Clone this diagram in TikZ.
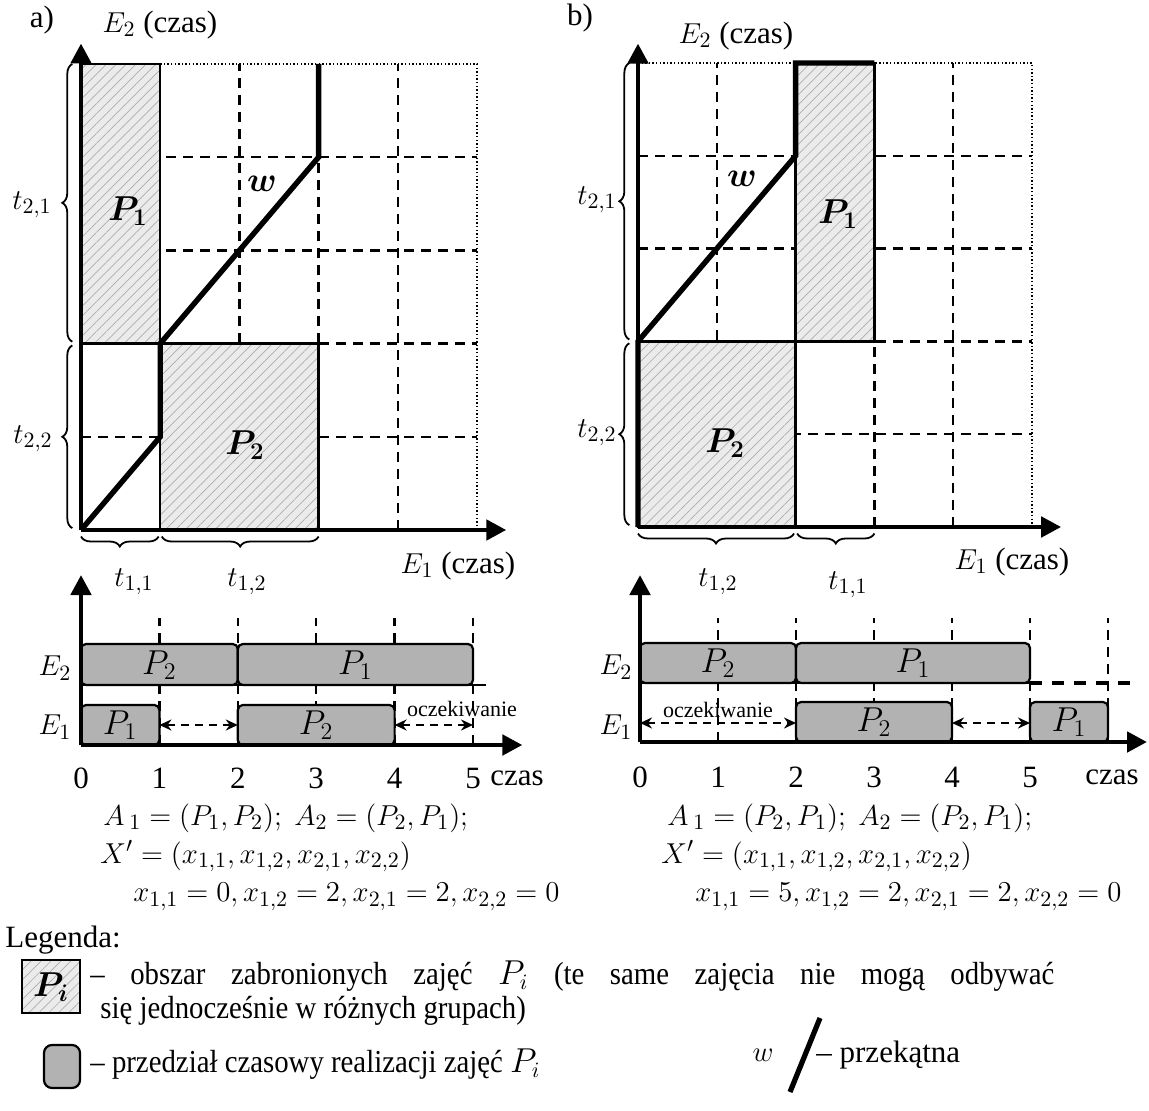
\documentclass[tikz,border=0pt]{standalone}
\usepackage{amsmath,bm}
\usepackage{fontspec}
\setmainfont{Liberation Serif}
\newfontfamily\legfont{Liberation Serif}[FakeStretch=0.9]
\usetikzlibrary{arrows.meta,patterns,patterns.meta,decorations.pathreplacing}
\begin{document}
\begin{tikzpicture}[x=0.5pt,y=-0.5pt,
  lbl/.style={font=\fontsize{15.5}{18}\selectfont, inner sep=0pt},
  big/.style={font=\fontsize{18}{20}\selectfont, inner sep=0pt},
  barl/.style={font=\fontsize{16.5}{18}\selectfont, inner sep=0pt},
  leg/.style={font=\fontsize{16}{18}\selectfont\legfont, inner sep=0pt},
  small/.style={font=\fontsize{11}{13}\selectfont, inner sep=0pt},
  gridd/.style={line width=1.2pt, dash pattern=on 5pt off 3.5pt},
  dotl/.style={line width=0.8pt, dash pattern=on 0.7pt off 1.1pt},
  forbid/.style={fill=black!8, postaction={pattern={Lines[angle=45,distance=3.5pt,line width=0.35pt]}, pattern color=black!32}},
  edge/.style={line width=1.2pt},
  wpath/.style={line width=2.7pt, line join=miter},
  axisarrow/.style={line width=2.4pt, -{Triangle[length=10pt,width=10pt]}},
  bracestyle/.style={line width=0.9pt, decorate, decoration={brace, amplitude=5pt}},
  bar/.style={draw, line width=1.1pt, fill=black!30, rounded corners=2.5pt},
  waitarrow/.style={line width=1pt, dash pattern=on 4pt off 3pt, {Stealth[length=6pt,width=5.5pt]}-{Stealth[length=6pt,width=5.5pt]}},
  waitline/.style={line width=1.6pt, dash pattern=on 6pt off 5pt}
]
\useasboundingbox (0,0) rectangle (1149,1111);

% ================= Panel a =================
\begin{scope}[shift={(81,530)}]
\begin{scope}[x=39.6pt,y=46.6pt]
  \foreach \i in {1,...,4} {\draw[gridd] (\i,0) -- (\i,5); \draw[gridd] (0,\i) -- (5,\i);}
  \draw[dotl] (0,5) -- (5,5) -- (5,0);
  \path[forbid] (0,2) rectangle (1,5);
  \path[forbid] (1,0) rectangle (3,2);
  \draw[edge] (0,2) rectangle (1,5);
  \draw[edge] (1,0) rectangle (3,2);
  \coordinate (aO) at (0,0);
  \coordinate (aW1) at (1,1);
  \coordinate (aW2) at (1,2);
  \coordinate (aW3) at (3,4);
  \coordinate (aW4) at (3,5);
  \coordinate (aYt) at (0,5.22);
  \coordinate (aXt) at (5.37,0);
  \draw[wpath] (aO) -- (aW1) -- (aW2) -- (aW3) -- (aW4);
  \draw[axisarrow] (aO) -- (aYt);
  \draw[axisarrow] (aO) -- (aXt);
  \draw[bracestyle] (-0.11,0.02) -- (-0.11,1.98);
  \draw[bracestyle] (-0.11,2.02) -- (-0.11,5);
  \draw[bracestyle] (0.98,-0.07) -- (0,-0.07);
  \draw[bracestyle] (3,-0.07) -- (1.02,-0.07);
\end{scope}
\end{scope}
\node[lbl] (alab) at (42,20) {a)};
\node[lbl] (aE2) at (160,25) {$E_2$ (czas)};
\node[lbl] (at21) at (32,205) {$t_{2,1}$};
\node[lbl] (at22) at (33,439) {$t_{2,2}$};
\node[big] (aP1) at (128,211) {$\bm{P_1}$};
\node[big] (aP2) at (245,445) {$\bm{P_2}$};
\node[big] (aw) at (262,184) {$\bm{w}$};
\node[lbl] (at11) at (134,582) {$t_{1,1}$};
\node[lbl] (at12) at (247,582) {$t_{1,2}$};
\node[lbl] (aE1) at (458,566) {$E_1$ (czas)};

% ================= Panel b =================
\begin{scope}[shift={(638,527)}]
\begin{scope}[x=39.4pt,y=46.4pt]
  \foreach \i in {1,...,4} {\draw[gridd] (\i,0) -- (\i,5); \draw[gridd] (0,\i) -- (5,\i);}
  \draw[dotl] (0,5) -- (5,5) -- (5,0);
  \path[forbid] (0,0) rectangle (2,2);
  \path[forbid] (2,2) rectangle (3,5);
  \draw[edge] (0,0) rectangle (2,2);
  \draw[edge] (2,2) rectangle (3,5);
  \coordinate (bO) at (0,0);
  \coordinate (bW1) at (0,2);
  \coordinate (bW2) at (2,4);
  \coordinate (bW3) at (2,5);
  \coordinate (bW4) at (3,5);
  \coordinate (bYt) at (0,5.21);
  \coordinate (bXt) at (5.37,0);
  \draw[wpath] (bO) -- (bW1) -- (bW2) -- (bW3) -- (bW4);
  \draw[axisarrow] (bO) -- (bYt);
  \draw[axisarrow] (bO) -- (bXt);
  \draw[bracestyle] (-0.11,0.02) -- (-0.11,1.98);
  \draw[bracestyle] (-0.11,2.02) -- (-0.11,5);
  \draw[bracestyle] (1.98,-0.07) -- (0,-0.07);
  \draw[bracestyle] (3,-0.07) -- (2.02,-0.07);
\end{scope}
\end{scope}
\node[lbl] (blab) at (580,18) {b)};
\node[lbl] (bE2) at (736,36) {$E_2$ (czas)};
\node[lbl] (bt21) at (597,200) {$t_{2,1}$};
\node[lbl] (bt22) at (597,433) {$t_{2,2}$};
\node[big] (bP1) at (838,214) {$\bm{P_1}$};
\node[big] (bP2) at (725,443) {$\bm{P_2}$};
\node[big] (bw) at (742,179) {$\bm{w}$};
\node[lbl] (bt12) at (718,582) {$t_{1,2}$};
\node[lbl] (bt11) at (848,585) {$t_{1,1}$};
\node[lbl] (bE1) at (1012,562) {$E_1$ (czas)};

% ================= Gantt a =================
\begin{scope}[shift={(81,745)}]
\begin{scope}[x=39.2pt,y=0.5pt]
  \foreach \i in {1,...,5} \draw[gridd] (\i,0) -- (\i,127);
  \draw[bar] (0,60) rectangle (2,101);
  \draw[bar] (2,60) rectangle (5,101);
  \draw[bar] (0,0) rectangle (1,40);
  \draw[bar] (2,0) rectangle (4,40);
  \draw[edge] (0,60) -- (5.17,60);
  \coordinate (gaO) at (0,0);
  \coordinate (gaYt) at (0,170);
  \coordinate (gaXt) at (5.63,0);
  \coordinate (gaw1s) at (1,20);
  \coordinate (gaw1e) at (2,20);
  \coordinate (gaw2s) at (4,20);
  \coordinate (gaw2e) at (5,20);
  \draw[waitarrow] (gaw1s) -- (gaw1e);
  \draw[waitarrow] (gaw2s) -- (gaw2e);
  \draw[axisarrow] (gaO) -- (gaYt);
  \draw[axisarrow] (gaO) -- (gaXt);
  \node[barl] (gaP2) at (1,80) {$P_2$};
  \node[barl] (gaP1) at (3.5,80) {$P_1$};
  \node[barl] (gaQ1) at (0.5,20) {$P_1$};
  \node[barl] (gaQ2) at (3,20) {$P_2$};
  \foreach \i in {0,...,5} \node[lbl] (gat\i) at (\i,-33) {\i};
\end{scope}
\end{scope}
\node[lbl] (gaE2) at (55,668) {$E_2$};
\node[lbl] (gaE1) at (55,727) {$E_1$};
\node[lbl] (gaczas) at (517,778) {czas};
\node[small] (gaocz) at (462,709) {oczekiwanie};

% ================= Gantt b =================
\begin{scope}[shift={(640,742)}]
\begin{scope}[x=39pt,y=0.5pt]
  \foreach \i in {1,...,6} \draw[gridd] (\i,0) -- (\i,124);
  \draw[bar] (0,59) rectangle (2,99);
  \draw[bar] (2,59) rectangle (5,99);
  \draw[bar] (2,0) rectangle (4,40);
  \draw[bar] (5,0) rectangle (6,40);
  \draw[edge] (0,59) -- (5,59);
  \draw[waitline] (5,59) -- (6.35,59);
  \coordinate (gbO) at (0,0);
  \coordinate (gbYt) at (0,167);
  \coordinate (gbXt) at (6.5,0);
  \coordinate (gbw1s) at (0,19);
  \coordinate (gbw1e) at (2,19);
  \coordinate (gbw2s) at (4,19);
  \coordinate (gbw2e) at (5,19);
  \draw[waitarrow] (gbw1s) -- (gbw1e);
  \draw[waitarrow] (gbw2s) -- (gbw2e);
  \draw[axisarrow] (gbO) -- (gbYt);
  \draw[axisarrow] (gbO) -- (gbXt);
  \node[barl] (gbP2) at (1,79) {$P_2$};
  \node[barl] (gbP1) at (3.5,79) {$P_1$};
  \node[barl] (gbQ2) at (3,20) {$P_2$};
  \node[barl] (gbQ1) at (5.5,20) {$P_1$};
  \foreach \i in {0,...,5} \node[lbl] (gbt\i) at (\i,-35) {\i};
\end{scope}
\end{scope}
\node[lbl] (gbE2) at (616,667) {$E_2$};
\node[lbl] (gbE1) at (616,727) {$E_1$};
\node[lbl] (gbczas) at (1112,777) {czas};
\node[small] (gbocz) at (718,710) {oczekiwanie};

% ================= Formulas =================
\node[lbl, anchor=west] (fa1) at (103,818) {$A\,{}_{1} = (P_1,P_2);\ A_2 = (P_2,P_1);$};
\node[lbl, anchor=west] (fa2) at (100,856) {$X' = \left(x_{1,1},x_{1,2},x_{2,1},x_{2,2}\right)$};
\node[lbl, anchor=west] (fa3) at (133,897) {$x_{1,1} = 0, x_{1,2} = 2, x_{2,1} = 2, x_{2,2} = 0$};
\node[lbl, anchor=west] (fb1) at (667,818) {$A\,{}_{1} = (P_2,P_1);\ A_2 = (P_2,P_1);$};
\node[lbl, anchor=west] (fb2) at (661,856) {$X' = \left(x_{1,1},x_{1,2},x_{2,1},x_{2,2}\right)$};
\node[lbl, anchor=west] (fb3) at (695,897) {$x_{1,1} = 5, x_{1,2} = 2, x_{2,1} = 2, x_{2,2} = 0$};

% ================= Legend =================
\node[lbl, anchor=west] (leg) at (5,940) {Legenda:};
\path[forbid] (22,960) rectangle (80,1013);
\draw[edge] (22,960) rectangle (80,1013);
\node[big] (legP) at (51,987) {$\bm{P_i}$};
\node[leg, anchor=west] (leg1) at (90,976) {\hbox to 482pt{– obszar zabronionych zajęć $P_i$ (te same zajęcia nie mogą odbywać}};
\node[leg, anchor=west] (leg2) at (100,1011) {się jednocześnie w różnych grupach)};
\draw[bar, rounded corners=4pt] (44,1045) rectangle (80,1088);
\node[leg, anchor=west] (leg3) at (90,1064) {– przedział czasowy realizacji zajęć $P_i$};
\node[lbl] (legw) at (763,1055) {$w$};
\coordinate (sl1) at (790,1092);
\coordinate (sl2) at (820,1018);
\draw[line width=2.6pt] (sl1) -- (sl2);
\node[lbl, anchor=west] (legprz) at (816,1055) {– przekątna};
\end{tikzpicture}
\end{document}
